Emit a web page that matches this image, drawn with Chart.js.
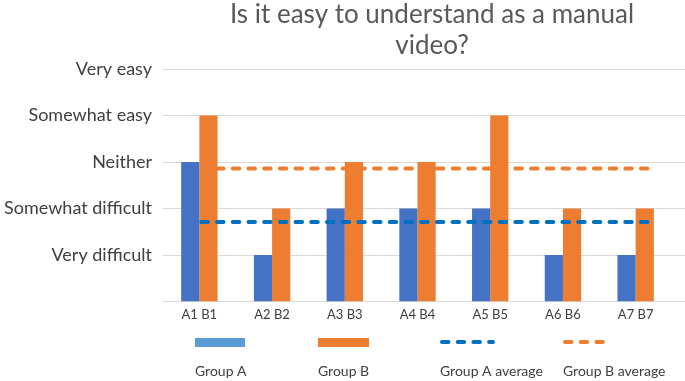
<!DOCTYPE html>
<html>
<head>
<meta charset="utf-8">
<script src="https://cdn.jsdelivr.net/npm/chart.js@4.4.1/dist/chart.umd.min.js"></script>
<style>
  html, body { margin: 0; padding: 0; background: #fff; overflow: hidden; }
  #wrap { width: 685px; height: 381px; }
</style>
</head>
<body>
<div id="wrap"><canvas id="chart"></canvas></div>
<script>
// data
const categories = ['A1 B1', 'A2 B2', 'A3 B3', 'A4 B4', 'A5 B5', 'A6 B6', 'A7 B7']
const groupA = [3, 1, 2, 2, 2, 1, 1]
const groupB = [4, 2, 3, 3, 4, 2, 2]
const groupAAverage = 1.71
const groupBAverage = 2.86
// x range of the average lines (in category index units)
const averageSpan = [0, 6.18]
const yTickLabels = ['', 'Very difficult', 'Somewhat difficult', 'Neither', 'Somewhat easy', 'Very easy']
const titleLines = ['Is it easy to understand as a manual', 'video?']
const legendLabels = ['Group A', 'Group B', 'Group A average', 'Group B average']

const FONT = 'Lato, "Open Sans", sans-serif'
const AVG_DASH = [6.5, 9.2]

// title, long gridlines, average lines and the bottom legend are drawn by hand
const decorPlugin = {
  id: 'decor',
  beforeDatasetsDraw(chart) {
    const { ctx, scales } = chart
    ctx.save()
    ctx.strokeStyle = '#d9d9d9'
    ctx.lineWidth = 1
    for (let v = 0; v <= 5; v++) {
      const y = Math.round(scales.y.getPixelForValue(v)) + 0.5
      ctx.beginPath()
      ctx.moveTo(chart.chartArea.left, y)
      ctx.lineTo(chart.width, y)
      ctx.stroke()
    }
    ctx.restore()
  },
  afterDatasetsDraw(chart) {
    const { ctx, scales } = chart
    const x0 = scales.x.getPixelForValue(averageSpan[0])
    const x1 = scales.x.getPixelForValue(averageSpan[1])
    ctx.save()
    ctx.lineWidth = 4
    ctx.lineCap = 'round'
    ctx.setLineDash(AVG_DASH)
    ;[[groupAAverage, '#0070c0'], [groupBAverage, '#ed7d31']].forEach(([v, c]) => {
      const y = scales.y.getPixelForValue(v)
      ctx.strokeStyle = c
      ctx.beginPath()
      ctx.moveTo(x0 + 2, y)
      ctx.lineTo(x1, y)
      ctx.stroke()
    })
    ctx.restore()
  },
  afterDraw(chart) {
    const { ctx } = chart
    ctx.save()
    // title
    ctx.fillStyle = '#595959'
    ctx.font = '26px ' + FONT
    ctx.textAlign = 'center'
    ctx.textBaseline = 'middle'
    ctx.fillText(titleLines[0], 432, 15)
    ctx.fillText(titleLines[1], 432, 46)

    // legend
    const items = [
      { x: 195, w: 50, color: '#5b9bd5', dash: null },
      { x: 318, w: 51, color: '#ed7d31', dash: null },
      { x: 440, w: 53, color: '#0070c0', dash: AVG_DASH },
      { x: 563, w: 47, color: '#ed7d31', dash: AVG_DASH }
    ]
    items.forEach((it, i) => {
      if (it.dash) {
        ctx.strokeStyle = it.color
        ctx.lineWidth = 4
        ctx.lineCap = 'round'
        ctx.setLineDash(it.dash)
        ctx.beginPath()
        ctx.moveTo(it.x + 2, 342)
        ctx.lineTo(it.x + it.w, 342)
        ctx.stroke()
        ctx.setLineDash([])
      } else {
        ctx.fillStyle = it.color
        ctx.fillRect(it.x, 338, it.w, 9)
      }
      ctx.fillStyle = '#404040'
      ctx.font = '14px ' + FONT
      ctx.textAlign = 'left'
      ctx.textBaseline = 'middle'
      ctx.fillText(legendLabels[i], it.x, 371)
    })
    ctx.restore()
  }
}

new Chart(document.getElementById('chart'), {
  type: 'bar',
  data: {
    labels: categories,
    datasets: [
      {
        label: 'Group A',
        data: groupA,
        backgroundColor: '#4472c4',
        categoryPercentage: 0.5,
        barPercentage: 1
      },
      {
        label: 'Group B',
        data: groupB,
        backgroundColor: '#ed7d31',
        categoryPercentage: 0.5,
        barPercentage: 1
      }
    ]
  },
  options: {
    responsive: true,
    maintainAspectRatio: false,
    animation: false,
    layout: {
      padding: { left: 0, right: 13, top: 69, bottom: 52 }
    },
    plugins: {
      legend: { display: false },
      title: { display: false },
      tooltip: { enabled: false }
    },
    scales: {
      x: {
        grid: { display: false, drawTicks: false },
        border: { display: false },
        ticks: {
          color: '#404040',
          font: { size: 13, family: FONT },
          padding: 6
        }
      },
      y: {
        min: 0,
        max: 5,
        afterFit: (s) => { s.width = 163 },
        grid: { display: false },
        border: { display: false },
        ticks: {
          stepSize: 1,
          color: '#404040',
          padding: 3,
          font: { size: 18, family: FONT },
          callback: (v) => yTickLabels[v]
        }
      }
    }
  },
  plugins: [decorPlugin]
})
</script>
</body>
</html>
